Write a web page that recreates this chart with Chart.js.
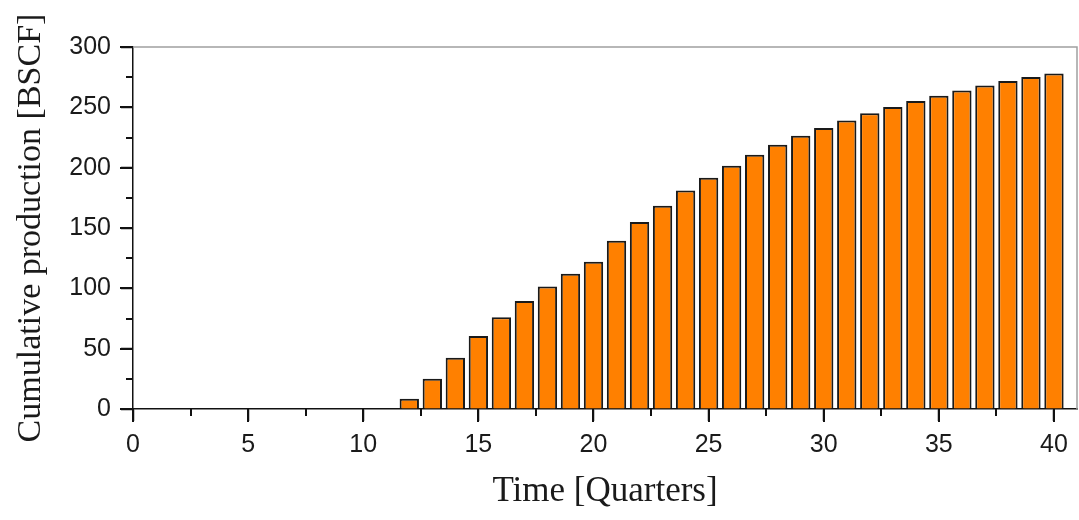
<!DOCTYPE html>
<html>
<head>
<meta charset="utf-8">
<script src="https://cdn.jsdelivr.net/npm/chart.js@4/dist/chart.umd.min.js"></script>
<style>
    body { margin: 0; background: #fff; }
    #wrap { width: 1079px; height: 520px; position: relative; }
</style>
</head>
<body>
<div id="wrap"><canvas id="prodChart"></canvas></div>
<script>
// quarters with production (bars start at quarter 12)
const quarters = [12, 13, 14, 15, 16, 17, 18, 19, 20, 21, 22, 23, 24, 25, 26,
    27, 28, 29, 30, 31, 32, 33, 34, 35, 36, 37, 38, 39, 40];
const cumulative = [8.5, 25, 42.5, 60.5, 76, 89.5, 101.5, 112, 122, 139.5, 155, 168.5, 181, 191.7, 201.5,
    210.7, 219, 226.4, 232.8, 239, 245.2, 250.2, 255.2, 259.6, 264, 268, 271.8, 275.1, 278.1];

const xTicks = [0, 5, 10, 15, 20, 25, 30, 35, 40];
const yTicks = [0, 50, 100, 150, 200, 250, 300];

const tickFont = { family: "'Liberation Sans', Arial, sans-serif", size: 25 };
const serif = "'Liberation Serif', 'Times New Roman', serif";

// major + minor tick marks and grey top/right frame
const axisMarks = {
    id: "axisMarks",
    afterDraw(chart) {
        const ctx = chart.ctx;
        const area = chart.chartArea;
        const xs = chart.scales.x;
        const ys = chart.scales.y;
        ctx.save();
        ctx.strokeStyle = "#a0a0a0";
        ctx.lineWidth = 1.5;
        ctx.beginPath();
        ctx.moveTo(area.left, area.top);
        ctx.lineTo(area.right, area.top);
        ctx.lineTo(area.right, area.bottom);
        ctx.stroke();

        ctx.strokeStyle = "#111";
        ctx.lineWidth = 2;
        ctx.beginPath();
        xTicks.forEach(t => {
            const px = Math.round(xs.getPixelForValue(t));
            ctx.moveTo(px, area.bottom);
            ctx.lineTo(px, area.bottom + 13);
            if (t + 2.5 <= xs.max) {
                const pm = Math.round(xs.getPixelForValue(t + 2.5));
                ctx.moveTo(pm, area.bottom);
                ctx.lineTo(pm, area.bottom + 7);
            }
        });
        yTicks.forEach(t => {
            const py = Math.round(ys.getPixelForValue(t));
            ctx.moveTo(area.left, py);
            ctx.lineTo(area.left - 13, py);
            if (t + 25 <= ys.max) {
                const pm = Math.round(ys.getPixelForValue(t + 25));
                ctx.moveTo(area.left, pm);
                ctx.lineTo(area.left - 7, pm);
            }
        });
        ctx.stroke();
        ctx.restore();
    }
};

function renderChart() {
    const ctx = document.getElementById("prodChart").getContext("2d");

    const points = quarters.map((q, i) => ({ x: q, y: cumulative[i] }));

    new Chart(ctx, {
        type: "bar",
        data: {
            datasets: [{
                label: "Cumulative production",
                data: points,
                backgroundColor: "#ff8000",
                borderColor: "#1a1a1a",
                borderWidth: 2,
                borderSkipped: "bottom",
                barPercentage: 0.84,
                categoryPercentage: 1
            }]
        },
        options: {
            responsive: true,
            maintainAspectRatio: false,
            animation: false,
            layout: { padding: { top: 47, right: 2, left: 0, bottom: 0 } },
            plugins: {
                legend: { display: false },
                tooltip: { enabled: false }
            },
            scales: {
                x: {
                    type: "linear",
                    min: 0,
                    max: 41,
                    offset: false,
                    afterFit: s => { s.height = 111; },
                    afterBuildTicks: s => { s.ticks = xTicks.map(v => ({ value: v })); },
                    grid: {
                        offset: false,
                        drawOnChartArea: false,
                        drawTicks: true,
                        tickLength: 12,
                        tickWidth: 1.5,
                        tickColor: "#111"
                    },
                    border: { display: true, color: "#111", width: 1.5 },
                    ticks: {
                        font: tickFont,
                        color: "#1a1a1a",
                        padding: 9,
                        maxRotation: 0
                    },
                    title: {
                        display: true,
                        text: "Time [Quarters]",
                        font: { family: serif, size: 35, lineHeight: 1.2 },
                        color: "#1a1a1a",
                        padding: { top: 0, bottom: 7 }
                    }
                },
                y: {
                    min: 0,
                    max: 300,
                    afterFit: s => { s.width = 133; },
                    afterBuildTicks: s => { s.ticks = yTicks.map(v => ({ value: v })); },
                    grid: {
                        offset: false,
                        drawOnChartArea: false,
                        drawTicks: true,
                        tickLength: 12,
                        tickWidth: 1.5,
                        tickColor: "#111"
                    },
                    border: { display: true, color: "#111", width: 1.5 },
                    ticks: {
                        font: tickFont,
                        color: "#1a1a1a",
                        padding: 10
                    },
                    title: {
                        display: true,
                        text: "Cumulative production [BSCF]",
                        font: { family: serif, size: 34, lineHeight: 1.2 },
                        color: "#1a1a1a",
                        padding: { top: 11, bottom: 0 }
                    }
                }
            }
        },
        plugins: [axisMarks]
    });
}

document.addEventListener("DOMContentLoaded", () => {
    renderChart();
});
</script>
</body>
</html>
